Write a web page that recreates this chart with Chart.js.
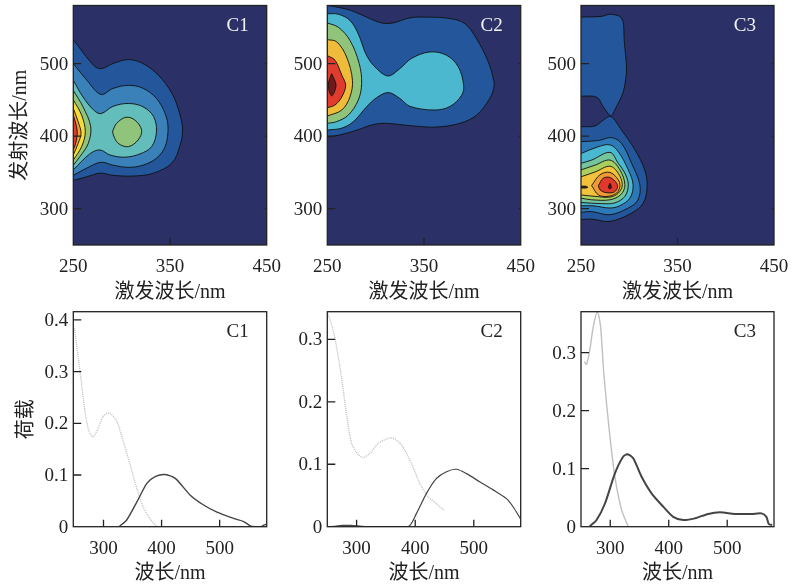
<!DOCTYPE html>
<html>
<head>
<meta charset="utf-8">
<script src="https://cdn.jsdelivr.net/npm/chart.js@4"></script>
<style>
    html, body { margin: 0; padding: 0; background: #fff; }
    body { width: 792px; height: 586px; position: relative; overflow: hidden; }
    canvas { position: absolute; }
</style>
</head>
<body>
<script>
// tick labels
const exTicks = [250, 350, 450];
const emTicks = [300, 400, 500];
const waveTicks = [300, 400, 500];
const loadTicksC1 = [0, 0.1, 0.2, 0.3, 0.4];
const loadTicksC2 = [0, 0.1, 0.2, 0.3];
const loadTicksC3 = [0, 0.1, 0.2, 0.3];

// contour levels, [excitation, emission], outermost first
const c1Levels = [
    [[250,533],[270.7,498],[278.6,493],[291,500],[307,505.5],[322,500],[338,484],[352,459],[360,431],[363,408],[360,385.5],[352,363],[333,349],[312,345],[291,346],[277.6,349],[264,344],[250,339]],
    [[250,500],[264,477],[278.6,457.4],[291,465.7],[307,470],[322,466],[336,452],[345,431],[348,411],[345,385.5],[336,369.5],[322,360],[307,357],[291,360],[278.6,364],[264,356],[250,346]],
    [[250,477],[260,454],[271,436],[278.6,431],[291,441],[307,445],[322,440.5],[333,427],[336,406],[331,385.5],[319,375.5],[303.4,371],[288,374],[277.6,381],[267,375.5],[250,353.5]],
    [[250,463],[260,440.5],[268,413],[265.5,390],[257,372],[250,360]],
    [[250,450],[258.6,429],[262.4,406],[258.6,385.5],[250,367]],
    [[250,438],[255,420],[258,404],[255,390],[250,374]],
    [[250,429],[253.4,413],[254,401.6],[252,388],[250,381]]
];
const c1Blob = [[290.7,407],[294.8,417.6],[304.5,426],[313.8,422],[320.7,408],[317,394.7],[307,385.5],[296.5,390],[291.4,401.6],[290.7,407]];
const c1Colors = ["#24569b", "#3a80b9", "#62bdbb", "#90c47b", "#f4dc3c", "#ee9f33", "#df3a2b"];

const c2Levels = [
    [[250,580],[263,577],[275,573],[290.7,564],[306,556],[318,556],[335.5,563],[352.8,564],[377,562],[392.4,555],[404.5,534],[416.6,502],[421.7,479],[422.4,468],[418,452],[404.5,429],[387,417.6],[363,412.5],[339,414],[311,417.6],[297.6,416],[280,408],[263,401.6],[250,399]],
    [[250,568.7],[261.4,568],[273.4,559.5],[282,541],[290.7,511],[301,493],[313,483],[325,493],[337,507],[356,516],[373.4,511.4],[385.5,495.4],[391,470],[389,456.5],[377,441],[361,436],[335.5,441],[325,452],[313,460],[301,453],[290.7,440.5],[277,420],[265,411],[250,408.4]],
    [[250,556],[261.4,550],[273.4,532],[283,500],[285.5,472.5],[282,449.6],[271.7,429],[259.7,420],[250,417.6]],
    [[250,533],[259.7,530],[270,509],[276,477],[273.4,454],[265,436],[250,427.7]],
    [[250,511],[258,504.6],[265,484],[269,470],[265,454],[258,443],[250,439]],
    [[254.5,486],[259,470],[254.5,455.6],[251,470],[254.5,486]]
];
const c2Colors = ["#24569b", "#4bb8cf", "#8fc47a", "#efbb3a", "#e03c2e", "#6f1a1a"];

const c3Upper = [[250,564],[271.4,565],[280,568],[290.3,565],[293.8,557],[294.8,532],[297.2,491],[293.8,461],[285,436],[281,427.7],[273,440.5],[268,452],[262.8,455],[250,455]];
const c3Levels = [
    [[250,413],[264.5,414],[273,422],[281,427],[292,408.4],[306,381],[316,353.5],[318.6,330.6],[314.5,307.7],[302.4,294],[280,282.5],[261,285.7],[250,285]],
    [[250,392.4],[268,394],[281.7,398],[292,390],[302.4,362.6],[311,333],[309,312],[299,301],[280,291.7],[261,296],[250,295]],
    [[250,376],[268,385.5],[280,388],[288.6,378.7],[299,353.5],[304,333],[300.7,314.6],[290,304],[280,301],[262.8,304],[250,304]],
    [[250,362.6],[261,367],[280,377.6],[288.6,362.6],[295.5,349],[299,333],[295.5,317],[285,308],[271.4,307],[250,308.6]],
    [[250,353.5],[264.5,360],[280,367],[290.3,353.5],[295.5,333],[291.4,319.6],[280,312.3],[261,312.3],[250,314.5]],
    [[250,344],[264.5,350.6],[280,358.6],[288.6,348.9],[292.8,333],[288.6,321.4],[280,316],[264.5,317],[250,319]],
    [[261,332],[269.7,346.8],[280,350],[288.6,340],[290.3,330.6],[287,321.6],[278,317],[268,319],[261,332]],
    [[268,331.8],[273,342],[280,343],[287,335],[287.6,328],[283.4,322.5],[274.8,322.5],[269.7,326],[268,331.8]],
    [[280,335],[281.5,330],[280,327],[278.5,330],[280,335]],
    [[250,331],[255,331],[257,329.7],[255,328.5],[250,328.5]]
];
const c3Colors = ["#24569b", "#2d78b7", "#4ab8d0", "#74c49e", "#a8cf5f", "#f3c23c", "#ee9a35", "#e0382c", "#5a1515", "#3a2a20"];

// loadings, [wavelength, value]
const c1Ex = [[250,0.384],[260,0.297],[267.7,0.226],[275,0.184],[282,0.174],[290.6,0.19],[299,0.213],[309.5,0.22],[322,0.206],[333.5,0.168],[345,0.123],[356.6,0.077],[368,0.039],[379.6,0.016],[391,0.001]];
const c1Em = [[327.6,0.001],[340,0.013],[357.5,0.048],[374.7,0.084],[389,0.097],[406,0.101],[423.6,0.0935],[449.4,0.061],[472.4,0.042],[495.4,0.028],[524,0.016],[541.4,0.01],[554,0.001],[571,0],[576,0.003],[581,0.005]];
const c2Ex = [[250,0.344],[260,0.315],[271.6,0.256],[283,0.179],[291.5,0.1335],[303,0.115],[311.4,0.111],[322.7,0.1175],[337,0.1335],[359.7,0.1425],[376.7,0.131],[393.8,0.101],[408,0.069],[422,0.048],[436,0.037],[449.4,0.026]];
const c2Em = [[250,0],[263,0.0005],[275,0.002],[290,0.002],[305,0.001],[320,0],[388,0],[402,0.021],[419,0.053],[436,0.077],[453.4,0.088],[470.5,0.092],[487.5,0.085],[510,0.072],[533,0.059],[555.7,0.045],[567,0.032],[579.5,0.013]];
const c3Ex = [[255.6,0.2845],[259.5,0.28],[265,0.3046],[271,0.345],[278,0.3707],[283.5,0.345],[289,0.264],[297.7,0.172],[308,0.086],[319.4,0.029],[330.8,0]];
const c3Em = [[265,0.001],[276.6,0.0115],[291,0.04],[308,0.092],[322,0.1207],[329.6,0.125],[339.3,0.118],[353.6,0.086],[370.6,0.0575],[390.6,0.0345],[407.7,0.017],[424.8,0.0115],[444.7,0.0144],[467.5,0.022],[487.5,0.0247],[513,0.022],[541.6,0.022],[558.7,0.023],[567,0.017],[571,0.0046],[576.9,0.003]];

const FONT = "'Liberation Serif', 'Noto Sans CJK SC', serif";
const INK = "#222";

// frame, inward ticks and the C1/C2/C3 tag
const panelDeco = {
    id: "panelDeco",
    afterDatasetsDraw(chart, args, opts) {
        const ctx = chart.ctx, a = chart.chartArea;
        const xs = chart.scales.x, ys = chart.scales.y;
        ctx.save();
        ctx.strokeStyle = INK;
        ctx.lineWidth = 1.3;
        ctx.strokeRect(a.left, a.top, a.right - a.left, a.bottom - a.top);
        ctx.beginPath();
        xs.ticks.forEach(function (t) {
            const px = xs.getPixelForValue(t.value);
            if (px > a.left + 1 && px < a.right - 1) {
                ctx.moveTo(px, a.bottom);
                ctx.lineTo(px, a.bottom - 7);
            }
        });
        ys.ticks.forEach(function (t) {
            const py = ys.getPixelForValue(t.value);
            if (py < a.bottom - 1) {
                ctx.moveTo(a.left, py);
                ctx.lineTo(a.left + 8, py);
                if (opts.rightTicks) {
                    ctx.moveTo(a.right, py);
                    ctx.lineTo(a.right - 2, py);
                }
            }
        });
        ctx.stroke();
        ctx.fillStyle = opts.tagColor;
        ctx.font = "19px " + FONT;
        ctx.textAlign = "right";
        ctx.textBaseline = "middle";
        ctx.fillText(opts.tag, a.right - 18, a.top + 20.5);
        ctx.restore();
    }
};

function pts(list) {
    return list.map(function (p) { return { x: p[0], y: p[1] }; });
}

function contourSet(list, color, order, tension) {
    return {
        data: pts(list),
        showLine: true,
        fill: "shape",
        backgroundColor: color,
        borderColor: "#111",
        borderWidth: 0.9,
        pointRadius: 0,
        tension: tension,
        order: order
    };
}

function lineSet(list, color, width, dash) {
    return {
        data: pts(list),
        showLine: true,
        fill: false,
        borderColor: color,
        borderWidth: width,
        borderDash: dash,
        pointRadius: 0,
        tension: 0.25
    };
}

function makePanel(p) {
    const canvas = document.createElement("canvas");
    canvas.width = p.box[2];
    canvas.height = p.box[3];
    canvas.style.left = p.box[0] + "px";
    canvas.style.top = p.box[1] + "px";
    document.body.appendChild(canvas);

    new Chart(canvas.getContext("2d"), {
        type: "scatter",
        data: { datasets: p.datasets },
        plugins: [panelDeco],
        options: {
            responsive: false,
            animation: false,
            events: [],
            layout: { autoPadding: false, padding: { top: p.padTop, right: p.padRight, left: 0, bottom: 0 } },
            plugins: {
                legend: { display: false },
                tooltip: { enabled: false },
                panelDeco: { tag: p.tag, tagColor: p.tagColor, rightTicks: p.rightTicks }
            },
            scales: {
                x: {
                    type: "linear",
                    min: p.xRange[0],
                    max: p.xRange[1],
                    afterBuildTicks: function (s) { s.ticks = p.xTicks.map(function (v) { return { value: v }; }); },
                    afterFit: function (s) { s.height = p.xAxisH; },
                    grid: { display: false, drawTicks: false },
                    border: { display: false },
                    ticks: { color: INK, font: { family: FONT, size: 19 }, padding: 10.5, maxRotation: 0, autoSkip: false },
                    title: { display: true, text: p.xTitle, color: INK, font: { family: FONT, size: 20 }, padding: { top: 0, bottom: 0 } }
                },
                y: {
                    type: "linear",
                    min: p.yRange[0],
                    max: p.yRange[1],
                    afterBuildTicks: function (s) { s.ticks = p.yTicks.map(function (v) { return { value: v }; }); },
                    afterFit: function (s) { s.width = p.yAxisW; },
                    grid: { display: false, drawTicks: false },
                    border: { display: false },
                    ticks: { color: INK, font: { family: FONT, size: 19 }, padding: 5, labelOffset: 1, autoSkip: false, callback: function (v) { return String(v); } },
                    title: { display: !!p.yTitle, text: p.yTitle, color: INK, font: { family: FONT, size: 20 }, padding: { top: p.yTitlePad, bottom: 0 } }
                }
            }
        }
    });
}

// canvases overlap: the extra room keeps Chart.js tick padding away from the plot box
function contourPanel(col, tag, levels, colors, extra) {
    const frame = [[250,250],[450,250],[450,580],[250,580]];
    var sets = [contourSet(frame, "#2b3166", 100, 0)];
    sets[0].borderWidth = 0;
    levels.forEach(function (lv, i) {
        sets.push(contourSet(lv, colors[i], 90 - i, 0.35));
    });
    extra.forEach(function (e) { sets.push(e); });
    makePanel({
        box: [col.left, -30, col.width + 30, 335],
        padTop: 35.5, padRight: col.padRight + 30, xAxisH: 60, yAxisW: col.yW,
        xRange: [250, 450], yRange: [250, 580], xTicks: exTicks, yTicks: emTicks,
        xTitle: "激发波长/nm", yTitle: col.first ? "发射波长/nm" : "", yTitlePad: 9,
        tag: tag, tagColor: "#f2f2f2", rightTicks: true, datasets: sets
    });
}

function loadPanel(col, tag, ex, exDash, em, emWidth, yMax, yTicks, xRange) {
    makePanel({
        box: [col.left, 270, col.width + 30, 316],
        padTop: 41.7, padRight: col.padRight + 30, xAxisH: 59.3, yAxisW: col.yW,
        xRange: xRange, yRange: [0, yMax], xTicks: waveTicks, yTicks: yTicks,
        xTitle: "波长/nm", yTitle: col.first ? "荷载" : "", yTitlePad: 15,
        tag: tag, tagColor: INK, rightTicks: false,
        datasets: [lineSet(em, "#444", emWidth, []), lineSet(ex, "#c0c0c0", 1.4, exDash)]
    });
}

const col1 = { left: 0, width: 287, yW: 73.3, padRight: 20.3, first: true };
const col2 = { left: 287, width: 251, yW: 40.3, padRight: 17.3, first: false };
const col3 = { left: 540, width: 252, yW: 41, padRight: 18, first: false };

contourPanel(col1, "C1", c1Levels, c1Colors, [contourSet(c1Blob, "#90c47b", 50, 0.35)]);
contourPanel(col2, "C2", c2Levels, c2Colors, []);
contourPanel(col3, "C3", c3Levels, c3Colors, [contourSet(c3Upper, "#24569b", 95, 0.25)]);

loadPanel(col1, "C1", c1Ex, [1, 1], c1Em, 1.4, 0.416, loadTicksC1, [248, 581]);
loadPanel(col2, "C2", c2Ex, [1, 1], c2Em, 1.2, 0.3444, loadTicksC2, [250, 580]);
loadPanel(col3, "C3", c3Ex, [], c3Em, 2, 0.3707, loadTicksC3, [250, 580]);
</script>
</body>
</html>
